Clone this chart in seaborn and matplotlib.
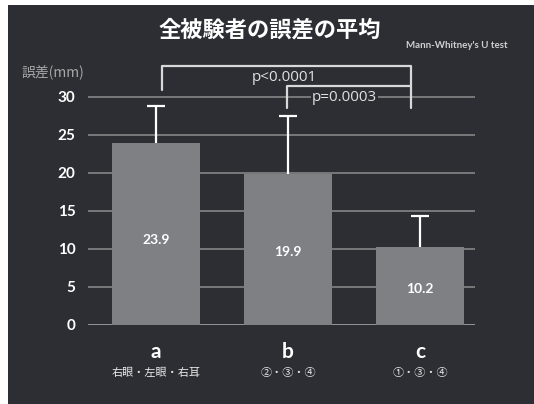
import matplotlib
matplotlib.use("Agg")
import matplotlib.pyplot as plt
import matplotlib.patches as mpatches
import matplotlib.transforms as mtransforms
import seaborn as sns
import pandas as pd
import numpy as np

# data
groups = ["a", "b", "c"]
subtitles = ["右眼・左眼・右耳", "②・③・④", "①・③・④"]
means = [23.9, 19.9, 10.2]
errors = [4.9, 7.6, 4.1]
yticks = [0, 5, 10, 15, 20, 25, 30]

df = pd.DataFrame({"group": groups, "mean": means})

sns.set_style("dark")
plt.rcParams["font.family"] = ["Noto Sans CJK JP", "DejaVu Sans"]

bg = "#2c2e34"
bar_col = "#7f8083"
grid_col = "#8c8c8c"

fig = plt.figure(figsize=(5.34, 4.04), dpi=100, facecolor="white")
# dark slide background (white margin at top/left like the scanned image)
fig.patches.append(mpatches.Rectangle((8 / 534, 0), 1, 399 / 404, transform=fig.transFigure,
                                      facecolor=bg, edgecolor="none", zorder=-10))

ax = fig.add_axes([88 / 534, 79 / 404, 387 / 534, 266 / 404])
ax.set_facecolor("none")

# grid lines
for t in yticks:
    ax.axhline(t, color="#b0b0b0" if t == 0 else grid_col, lw=1.1, zorder=0)

sns.barplot(data=df, x="group", y="mean", color=bar_col, saturation=1,
            width=0.66, errorbar=None, ax=ax, zorder=2, edgecolor="none", linewidth=0)

# upper-only error bars with a cap at the top
xs = np.arange(len(groups))
tops = np.array(means) + np.array(errors)
ax.vlines(xs, means, tops, color="white", lw=1.6, zorder=3)
ax.plot(xs, tops, ls="none", marker="_", ms=13, mew=1.6, color="white", zorder=3)

# value labels inside bars
label_y = [11.2, 9.6, 4.8]
for i, (m, ly) in enumerate(zip(means, label_y)):
    ax.text(i, ly, f"{m:.1f}", ha="center", va="center", color="white",
            fontsize=10, fontweight="bold", family="Lato")

ax.set_xlim(-0.515, 2.417)
ax.set_ylim(0, 35)
ax.set_yticks(yticks)
ax.set_yticklabels([str(t) for t in yticks], family="Lato", fontweight="bold",
                   fontsize=11, color="white")
ax.tick_params(axis="y", length=0, pad=9)
ax.set_xticks(xs)
ax.set_xticklabels(groups, family="Lato", fontweight="bold", fontsize=15, color="white")
ax.tick_params(axis="x", length=0, pad=12)
ax.set_xlabel("")
ax.set_ylabel("")
ax.grid(False)
for s in ax.spines.values():
    s.set_visible(False)

trans = mtransforms.blended_transform_factory(ax.transData, fig.transFigure)
for i, sub in enumerate(subtitles):
    ax.text(i, 1 - 373 / 404, sub, transform=trans, ha="center", va="center",
            color="#e8e8e8", fontsize=8)

# significance brackets
br = dict(color="#d8d8d8", lw=1.6, clip_on=False, zorder=4)
ax.plot([0.045, 0.045, 1.93, 1.93], [30.9, 34.1, 34.1, 28.6], **br)
ax.plot([0.99, 0.99, 1.93], [28.6, 31.4, 31.4], **br)
ax.text(0.97, 32.5, "p<0.0001", ha="center", va="center", color="#e0e0e0",
        fontsize=11, family="Open Sans", clip_on=False)
ax.text(1.43, 29.9, "p=0.0003", ha="center", va="center", color="#e0e0e0",
        fontsize=11, family="Open Sans", clip_on=False,
        bbox=dict(facecolor=bg, edgecolor="none", pad=0.5))

# titles
fig.text(270 / 534, 1 - 30 / 404, "全被験者の誤差の平均", ha="center", va="center",
         color="white", fontsize=16, fontweight="bold")
fig.text(508 / 534, 1 - 46 / 404, "Mann-Whitney's U test", ha="right", va="center",
         color="#d0d0d0", fontsize=7, family="Lato", fontweight="bold")
fig.text(22 / 534, 1 - 73 / 404, "誤差(mm)", ha="left", va="center",
         color="#a8a8a8", fontsize=10)

fig.savefig("out.png", dpi=100, facecolor=fig.get_facecolor())
